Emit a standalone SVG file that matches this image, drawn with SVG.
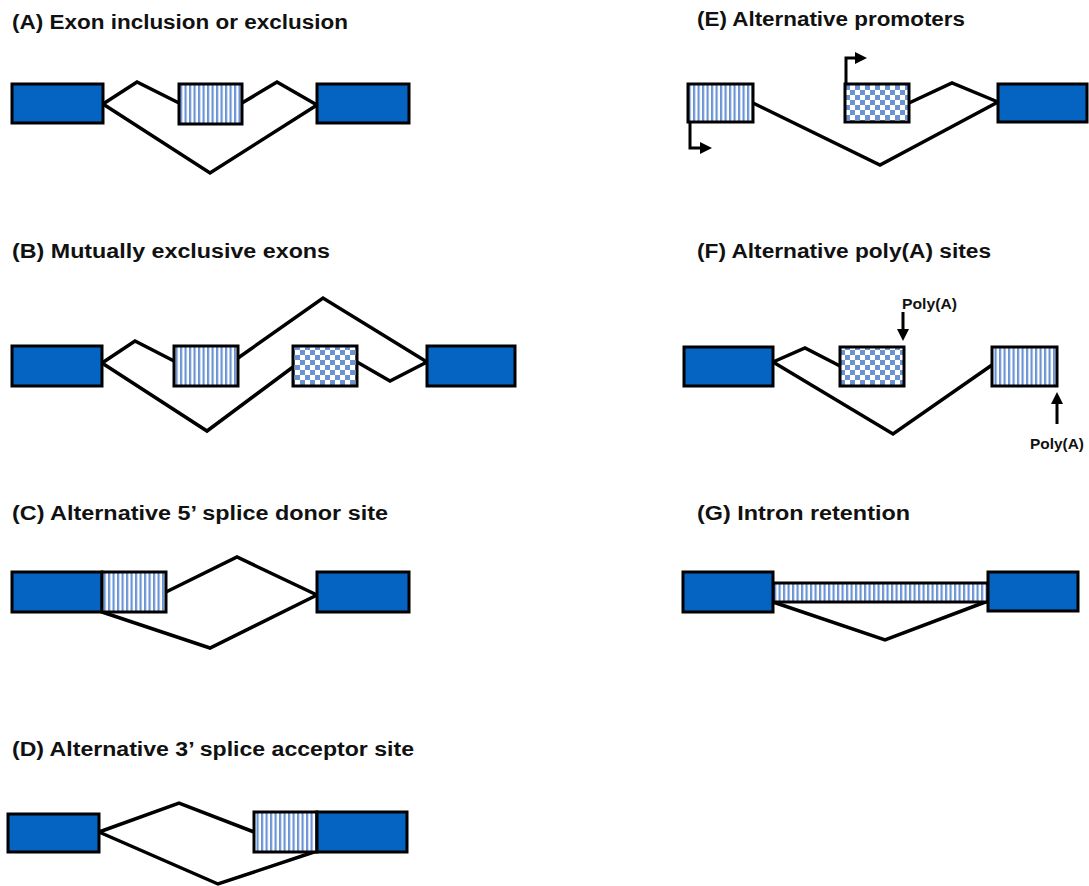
<svg xmlns="http://www.w3.org/2000/svg" width="1089" height="886" viewBox="0 0 1089 886">
<style>
.t{font-family:"Liberation Sans",Arial,sans-serif;font-weight:bold;font-size:20px;fill:#111}
.s{font-family:"Liberation Sans",Arial,sans-serif;font-weight:bold;font-size:14px;fill:#111}
.ex{fill:#0563c1;stroke:#000;stroke-width:3}
.st{fill:url(#stripes);stroke:#000;stroke-width:3}
.ck{fill:url(#checks);stroke:#000;stroke-width:3}
.ln{fill:none;stroke:#000;stroke-width:3.5;stroke-linejoin:miter}
.ar{fill:none;stroke:#000;stroke-width:3}
</style>
<defs>
<pattern id="stripes" width="4.5" height="10" patternUnits="userSpaceOnUse">
<rect width="4.5" height="10" fill="#fff"/>
<rect width="2.2" height="10" fill="#6a93d4"/>
</pattern>
<pattern id="checks" width="10" height="10" patternUnits="userSpaceOnUse">
<rect width="10" height="10" fill="#fff"/>
<rect width="5" height="5" fill="#6a93d4"/>
<rect x="5" y="5" width="5" height="5" fill="#6a93d4"/>
</pattern>
<marker id="ah" markerWidth="4" markerHeight="4" refX="1" refY="2" orient="auto" markerUnits="strokeWidth">
<path d="M0,0 L4,2 L0,4 z" fill="#000"/>
</marker>
</defs>

<g id="titles">
<text class="t" x="12" y="29" textLength="336" lengthAdjust="spacingAndGlyphs">(A) Exon inclusion or exclusion</text>
<text class="t" x="12" y="258" textLength="318" lengthAdjust="spacingAndGlyphs">(B) Mutually exclusive exons</text>
<text class="t" x="12" y="520" textLength="376" lengthAdjust="spacingAndGlyphs">(C) Alternative 5’ splice donor site</text>
<text class="t" x="12" y="756" textLength="402" lengthAdjust="spacingAndGlyphs">(D) Alternative 3’ splice acceptor site</text>
<text class="t" x="697" y="26" textLength="268" lengthAdjust="spacingAndGlyphs">(E) Alternative promoters</text>
<text class="t" x="697" y="258" textLength="294" lengthAdjust="spacingAndGlyphs">(F) Alternative poly(A) sites</text>
<text class="t" x="697" y="520" textLength="213" lengthAdjust="spacingAndGlyphs">(G) Intron retention</text>
</g>

<g id="connectors">
<!-- A -->
<polyline class="ln" points="103,104 137,82 179,103"/>
<polyline class="ln" points="242,103 277,82 317,105"/>
<polyline class="ln" points="103,104 210,173 317,105"/>
<!-- B -->
<polyline class="ln" points="102,363 135,341 174,361"/>
<polyline class="ln" points="238,358 323,298 427,362"/>
<polyline class="ln" points="102,363 207,431 293,367"/>
<polyline class="ln" points="357,362 390,381 427,362"/>
<!-- C -->
<polyline class="ln" points="166,592 237,557 317,595"/>
<polyline class="ln" points="102,612 210,648 317,595"/>
<!-- D -->
<polyline class="ln" points="99,832 179,803 254,832"/>
<polyline class="ln" points="99,832 218,884 317,851"/>
<!-- E -->
<polyline class="ln" points="753,103 880,165 998,102"/>
<polyline class="ln" points="909,103 952,83 998,102"/>
<!-- F -->
<polyline class="ln" points="773,362 805,348 840,366"/>
<polyline class="ln" points="773,362 893,434 992,365"/>
<!-- G -->
<polyline class="ln" points="773,602 885,640 988,601"/>
</g>

<g id="panelA">
<rect class="ex" x="12" y="84" width="91" height="39"/>
<rect class="st" x="179" y="84" width="63" height="40"/>
<rect class="ex" x="317" y="84" width="92" height="39"/>
</g>

<g id="panelB">
<rect class="ex" x="12" y="346" width="90" height="40"/>
<rect class="st" x="174" y="346" width="64" height="40"/>
<rect class="ck" x="293" y="346" width="64" height="40"/>
<rect class="ex" x="427" y="346" width="88" height="40"/>
</g>

<g id="panelC">
<rect class="ex" x="12" y="572" width="90" height="40"/>
<rect class="st" x="102" y="572" width="64" height="40"/>
<rect class="ex" x="317" y="572" width="92" height="40"/>
</g>

<g id="panelD">
<rect class="ex" x="8" y="814" width="91" height="38"/>
<rect class="st" x="254" y="812" width="63" height="40"/>
<rect class="ex" x="317" y="812" width="90" height="40"/>
</g>

<g id="panelE">
<rect class="st" x="688" y="84" width="65" height="38"/>
<rect class="ck" x="845" y="84" width="64" height="38"/>
<rect class="ex" x="998" y="84" width="89" height="38"/>
<path class="ar" d="M846,84 V58 H858" marker-end="url(#ah)"/>
<path class="ar" d="M690,122 V148 H703" marker-end="url(#ah)"/>
</g>

<g id="panelF">
<rect class="ex" x="684" y="347" width="89" height="39"/>
<rect class="ck" x="840" y="347" width="64" height="39"/>
<rect class="st" x="992" y="347" width="65" height="39"/>
<text class="s" x="902" y="309" textLength="55" lengthAdjust="spacingAndGlyphs">Poly(A)</text>
<path class="ar" d="M903,312 V332" marker-end="url(#ah)"/>
<path class="ar" d="M1057,424 V401" marker-end="url(#ah)"/>
<text class="s" x="1030" y="449" textLength="54" lengthAdjust="spacingAndGlyphs">Poly(A)</text>
</g>

<g id="panelG">
<rect class="st" x="773" y="583" width="215" height="19"/>
<rect class="ex" x="683" y="572" width="90" height="40"/>
<rect class="ex" x="988" y="572" width="90" height="39"/>
</g>
</svg>
